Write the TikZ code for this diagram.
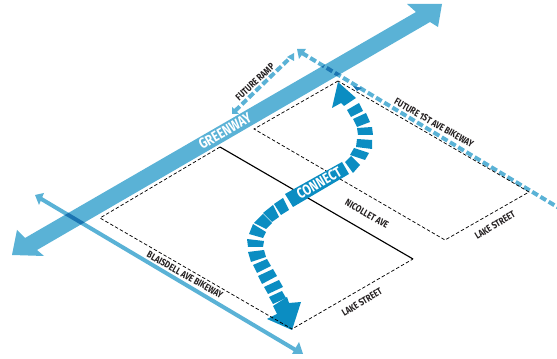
\documentclass[tikz,border=0pt]{standalone}
\usepackage{fontspec}
\setmainfont[FakeStretch=0.8]{Fira Sans}
\definecolor{lightblue}{HTML}{5AB2D6}
\definecolor{deepblue}{HTML}{0B8DC2}
\definecolor{overlapblue}{HTML}{1B75B2}
\definecolor{inkgray}{HTML}{231F20}
\tikzset{
  parcel/.style={draw=black,line width=0.55pt,dash pattern=on 2.6pt off 1.6pt},
  solidline/.style={draw=black,line width=0.85pt},
  bikeline/.style={draw=lightblue,line width=3pt},
  futureline/.style={draw=lightblue,line width=3pt,dash pattern=on 5pt off 2.2pt},
  headfill/.style={fill=lightblue,draw=none},
  label/.style={font=\bfseries\fontsize{7.3}{8}\selectfont,text=inkgray,inner sep=0pt},
  whitelabel/.style={font=\bfseries\fontsize{11}{12}\selectfont,text=white,inner sep=0pt},
}
\begin{document}
\begin{tikzpicture}[x=0.75pt,y=-0.75pt]
\useasboundingbox (0,0) rectangle (557,359);
% parcel corners
\coordinate (la) at (220,147); \coordinate (lb) at (100,218);
\coordinate (lc) at (292,329); \coordinate (ld) at (413,259);
\coordinate (ra) at (338,81);  \coordinate (rb) at (254,129);
\coordinate (rc) at (445,240); \coordinate (rd) at (529,192);
\draw[solidline] (la) -- (ld);
% greenway
\fill[headfill] (12,255) -- (17,230) -- (25,238) -- (416,12) -- (407,4) -- (442,4)
  -- (438,27) -- (430,22) -- (37,250) -- (44,256) -- cycle;
% Blaisdell
\coordinate (bs) at (38,197); \coordinate (be) at (299,352);
\draw[bikeline] (bs) -- (be);
\fill[headfill] (35,195) -- (44,193) -- (39,205) -- cycle;
\fill[headfill] (303,354) -- (292,354) -- (299,342) -- cycle;
% Future 1st Ave
\coordinate (fs) at (302,53); \coordinate (fe) at (559,208);
\draw[futureline] (fs) -- (fe);
\fill[headfill] (297,49) -- (306,49) -- (299,59) -- cycle;
% overlaps with the greenway
\begin{scope}
  \clip (25,238) -- (416,12) -- (430,22) -- (37,250) -- cycle;
  \draw[bikeline,draw=overlapblue] (bs) -- (be);
  \draw[futureline,draw=overlapblue] (fs) -- (fe);
\end{scope}
% Future ramp
\coordinate (rs) at (235,111); \coordinate (re) at (291,57);
\draw[futureline] (rs) -- (re);
\fill[headfill] (232,114) -- (232,107) -- (239,114) -- cycle;
\fill[headfill] (294,53) -- (287,57) -- (294,61) -- cycle;
% connect dashes
\foreach \ax/\ay/\bx/\by/\cx/\cy/\dx/\dy in {
 347/110/359/103/363/111/351/117,
 353/119/366/113/370/122/357/127,
 357/128/372/127/373/135/358/135,
 357/139/372/140/372/149/356/147,
 354/148/369/153/365/160/350/155,
 351/156/360/165/353/173/345/162,
 274/204/283/198/289/210/281/215,
 263/213/273/205/279/217/272/222,
 254/223/263/214/272/223/266/229,
 253/224/266/232/263/238/249/234,
 247/239/264/241/263/247/248/247,
 248/252/264/250/266/257/251/262,
 253/265/267/259/271/266/257/273,
 258/276/273/269/277/276/262/284,
 264/287/279/280/283/287/268/294,
 269/297/282/291/286/298/273/304}
  \fill[deepblue] (\ax,\ay) -- (\bx,\by) -- (\cx,\cy) -- (\dx,\dy) -- cycle;
\fill[deepblue] (338,82) -- (356,98) -- (344,106) -- (341,103) -- (332,108) -- cycle;
\fill[overlapblue] (353,86) -- (362,88) -- (357,91) -- cycle;
\fill[deepblue] (301,302) -- (292,330) -- (267,319) -- (277,314) -- (273,306) -- (287,297) -- (289,303) -- cycle;
% parcels
\draw[parcel] (la) -- (lb) -- (lc) -- (ld);
\draw[parcel] (ra) -- (rb) -- (rc) -- (rd) -- cycle;
% connect bar and labels
\fill[deepblue] (285,194) -- (342,162) -- (349,174) -- (293,207) -- cycle;
\node[whitelabel,rotate=30] (connect) at (319,183) {CONNECT};
\node[whitelabel,rotate=30] (green) at (225,131) {GREENWAY};
\node[label,rotate=43] (ramp) at (255,82) {FUTURE RAMP};
\node[label,rotate=-29.5] (first) at (434,123) {FUTURE 1ST AVE BIKEWAY};
\node[label,rotate=-30] (nic) at (367,214) {NICOLLET AVE};
\node[label,rotate=31] (lake1) at (362,302) {LAKE STREET};
\node[label,rotate=31] (lake2) at (495,225) {LAKE STREET};
\node[label,rotate=-29.5] (blais) at (185,275) {BLAISDELL AVE BIKEWAY};
\end{tikzpicture}
\end{document}
